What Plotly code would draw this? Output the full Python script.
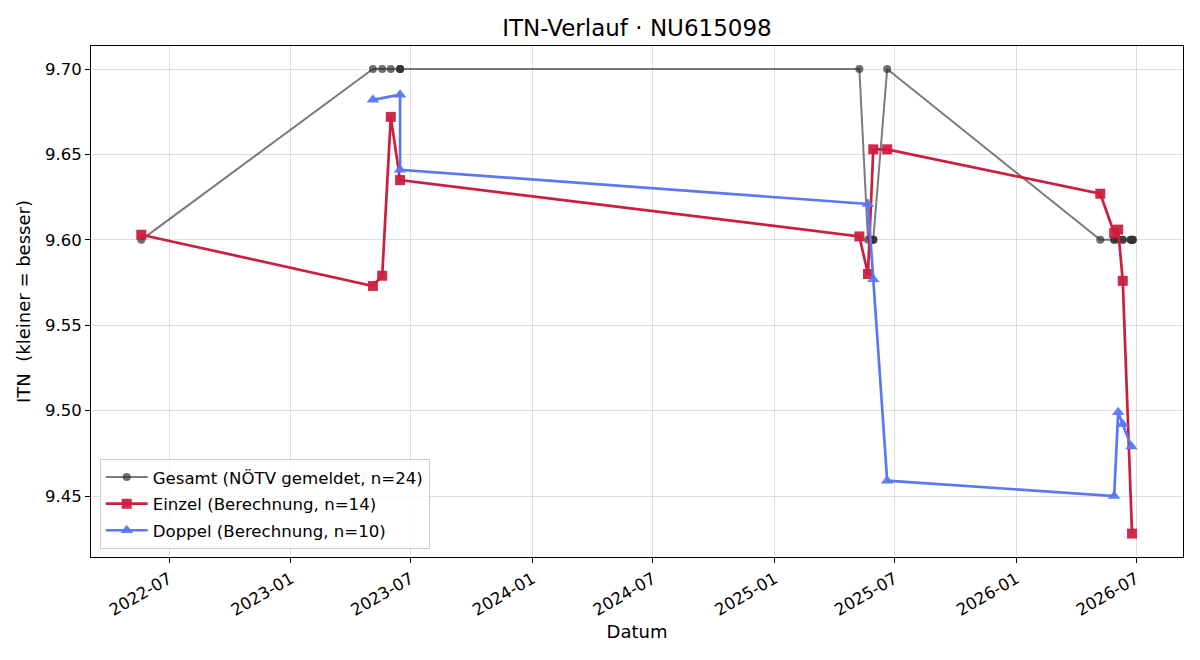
import plotly.graph_objects as go

# Gesamt (NÖTV gemeldet)
gesamt_dates = [
    "2022-05-20",
    "2023-05-05", "2023-05-19", "2023-06-01", "2023-06-15", "2023-06-15", "2023-06-15",
    "2025-05-09", "2025-05-22", "2025-05-30", "2025-05-30", "2025-05-30", "2025-06-20",
    "2026-05-08", "2026-05-29", "2026-05-29", "2026-06-04", "2026-06-11", "2026-06-11",
    "2026-06-23", "2026-06-23", "2026-06-26", "2026-06-26", "2026-06-26",
]
gesamt_vals = [
    9.60,
    9.70, 9.70, 9.70, 9.70, 9.70, 9.70,
    9.70, 9.60, 9.60, 9.60, 9.60, 9.70,
    9.60, 9.60, 9.60, 9.60, 9.60, 9.60,
    9.60, 9.60, 9.60, 9.60, 9.60,
]

# Einzel (Berechnung)
einzel_dates = [
    "2022-05-20",
    "2023-05-05", "2023-05-19", "2023-06-01", "2023-06-15",
    "2025-05-09", "2025-05-22", "2025-05-30", "2025-06-20",
    "2026-05-08", "2026-05-29", "2026-06-04", "2026-06-11", "2026-06-25",
]
einzel_vals = [
    9.603,
    9.573, 9.579, 9.672, 9.635,
    9.602, 9.580, 9.653, 9.653,
    9.627, 9.604, 9.606, 9.576, 9.428,
]

# Doppel (Berechnung)
doppel_dates = [
    "2023-05-05", "2023-06-15", "2023-06-15",
    "2025-05-22", "2025-05-30", "2025-06-20",
    "2026-05-29", "2026-06-04", "2026-06-11", "2026-06-24",
]
doppel_vals = [
    9.682, 9.685, 9.641,
    9.621, 9.577, 9.459,
    9.450, 9.499, 9.492, 9.479,
]

x_ticks = ["2022-07-01", "2023-01-01", "2023-07-01", "2024-01-01", "2024-07-01",
           "2025-01-01", "2025-07-01", "2026-01-01", "2026-07-01"]
x_tick_labels = ["2022-07", "2023-01", "2023-07", "2024-01", "2024-07",
                 "2025-01", "2025-07", "2026-01", "2026-07"]
y_ticks = [9.45, 9.50, 9.55, 9.60, 9.65, 9.70]

FONT = "DejaVu Sans"
GRID = "rgba(176,176,176,0.42)"

fig = go.Figure()
fig.add_trace(go.Scatter(
    x=gesamt_dates, y=gesamt_vals, mode="lines+markers",
    name="Gesamt (NÖTV gemeldet, n=24)", legendgroup="g",
    line=dict(color="rgba(60,60,60,0.68)", width=2),
    marker=dict(symbol="circle", size=8, color="rgba(50,50,50,0.7)", line=dict(width=0)),
))
fig.add_trace(go.Scatter(
    x=einzel_dates, y=einzel_vals, mode="lines+markers",
    name="Einzel (Berechnung, n=14)", legendgroup="e",
    line=dict(color="#cc1f3f", width=2.7),
    marker=dict(symbol="square", size=10, color="rgba(204,31,63,0.95)", line=dict(width=0)),
))
fig.add_trace(go.Scatter(
    x=doppel_dates, y=doppel_vals, mode="lines+markers",
    name="Doppel (Berechnung, n=10)", legendgroup="d",
    line=dict(color="#5b78f2", width=2.7),
    marker=dict(symbol="triangle-up", size=11, color="rgba(91,120,242,0.95)", line=dict(width=0)),
))

fig.update_layout(
    width=1200, height=660,
    margin=dict(l=91, r=17, t=46, b=103),
    paper_bgcolor="white", plot_bgcolor="white",
    font=dict(family=FONT, size=16.5, color="black"),
    title=dict(text="ITN-Verlauf · NU615098", x=0.5, xanchor="center",
               xref="paper", y=1 - 28 / 660, yanchor="middle", yref="container",
               font=dict(size=23, family=FONT, color="black")),
    showlegend=True,
    legend=dict(x=0.008, y=0.016, xanchor="left", yanchor="bottom",
                bgcolor="rgba(255,255,255,0.8)", bordercolor="#cccccc", borderwidth=1,
                font=dict(size=16.6, family=FONT), tracegroupgap=2, itemwidth=42),
    xaxis=dict(
        type="date", range=["2022-03-05", "2026-09-10"],
        tickmode="array", tickvals=x_ticks, ticktext=x_tick_labels, tickangle=-30,
        ticks="outside", ticklen=5, tickcolor="black", tickfont=dict(size=16.5),
        showgrid=True, gridcolor=GRID, gridwidth=1,
        showline=True, linecolor="black", linewidth=1, mirror=True, zeroline=False,
        title=dict(text="Datum", font=dict(size=18), standoff=6),
    ),
    yaxis=dict(
        range=[9.4143, 9.7135],
        tickmode="array", tickvals=y_ticks, tickformat=".2f",
        ticks="outside", ticklen=5, tickcolor="black", tickfont=dict(size=16.5),
        showgrid=True, gridcolor=GRID, gridwidth=1,
        showline=True, linecolor="black", linewidth=1, mirror=True, zeroline=False,
        title=dict(text="ITN\u00a0 (kleiner = besser)", font=dict(size=18), standoff=9),
    ),
)

fig.write_html("out.html")
